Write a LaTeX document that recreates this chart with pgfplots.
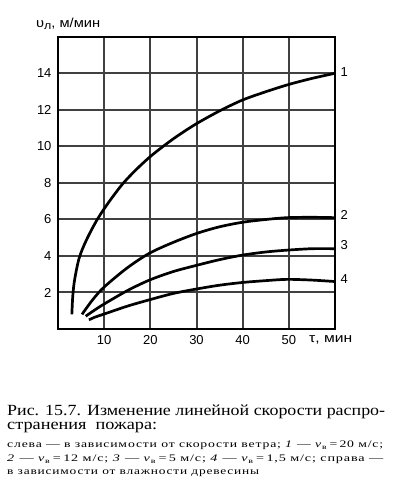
\documentclass[border=0pt]{standalone}
\usepackage{fontspec}
\usepackage{graphicx}
\setmainfont{Liberation Sans}
\newfontfamily\capfont{Liberation Serif}
\newfontfamily\smallfont[LetterSpace=6]{Liberation Serif}
\usepackage{pgfplots}
\pgfplotsset{compat=1.18}
\begin{document}
\begin{tikzpicture}
\path[use as bounding box] (0pt,0pt) rectangle (395pt,486pt);
\begin{axis}[
  at={(58pt,157pt)}, anchor=south west,
  scale only axis, width=277pt, height=292pt,
  xmin=0, xmax=60, ymin=0, ymax=16,
  xtick={10,20,30,40,50}, ytick={2,4,...,14},
  major tick length=0pt,
  xmajorgrids=true, ymajorgrids=true,
  major grid style={solid, draw=black!75, line width=2pt},
  axis line style={line width=2pt},
  tick label style={font=\fontsize{13}{13}\selectfont},
  /pgf/number format/assume math mode=true,
  xticklabel style={yshift=-3pt},
  yticklabel style={xshift=-3pt},
  clip=false,
]
\addplot[line width=2.7pt, smooth] coordinates {
 (3.0,0.8) (3.2,1.8) (3.6,2.7) (4.6,3.9) (6.2,4.9) (8.5,6.0) (11,6.95)
 (14,7.95) (17,8.75) (20,9.45) (23,10.05) (26,10.6) (30,11.25) (35,11.95) (40,12.55)
 (45,13.0) (50,13.4) (55,13.73) (59.8,14.0)};
\addplot[line width=2.7pt, smooth] coordinates {
 (5.2,0.8) (7.5,1.6) (10,2.3) (15,3.35) (19.8,4.15) (25,4.75) (30.2,5.25) (35,5.6)
 (40,5.85) (45,6.0) (49.6,6.1) (55,6.12) (60,6.1)};
\addplot[line width=2.7pt, smooth] coordinates {
 (6.0,0.7) (8,1.05) (10,1.37) (15,2.1) (19.8,2.68) (25,3.15) (30.2,3.5) (35,3.8)
 (40,4.05) (45,4.22) (49.6,4.32) (55,4.4) (60,4.4)};
\addplot[line width=2.7pt, smooth] coordinates {
 (6.7,0.5) (8,0.65) (10,0.82) (15,1.25) (19.8,1.6) (25,1.95) (30.2,2.2) (35,2.4)
 (40,2.55) (45,2.65) (49.6,2.72) (55,2.68) (60,2.6)};
\node[anchor=west,font=\fontsize{13}{13}\selectfont] at (axis cs:60,14.1) {\,1};
\node[anchor=west,font=\fontsize{13}{13}\selectfont] at (axis cs:60,6.25) {\,2};
\node[anchor=west,font=\fontsize{13}{13}\selectfont] at (axis cs:60,4.6) {\,3};
\node[anchor=west,font=\fontsize{13}{13}\selectfont] at (axis cs:60,2.75) {\,4};
\end{axis}
\node[anchor=base west,font=\fontsize{13}{13}\selectfont,inner sep=0pt] at (36pt,458pt) {\resizebox{64pt}{\height}{υ\raisebox{-2pt}{\fontsize{11}{11}\selectfont л}, м/мин}};
\node[anchor=base west,font=\fontsize{13}{13}\selectfont,inner sep=0pt] at (309pt,143pt) {\resizebox{43pt}{\height}{τ, мин}};
\node[anchor=base west,inner sep=0pt] at (7pt,70pt) {\capfont\fontsize{15.5}{15.5}\selectfont\resizebox{378pt}{\height}{Рис. 15.7. Изменение линейной скорости распро-}};
\node[anchor=base west,inner sep=0pt] at (7pt,56pt) {\capfont\fontsize{15.5}{15.5}\selectfont\resizebox{150pt}{\height}{странения\ \ пожара:}};
\node[anchor=base west,inner sep=0pt] at (7pt,38pt) {\smallfont\fontsize{10}{10}\selectfont\resizebox{376pt}{\height}{слева — в зависимости от скорости ветра; \textit{1} — \textit{v}\textsubscript{в}\,=\,20 м/с;}};
\node[anchor=base west,inner sep=0pt] at (7pt,24pt) {\smallfont\fontsize{10}{10}\selectfont\resizebox{376pt}{\height}{\textit{2} — \textit{v}\textsubscript{в}\,=\,12 м/с; \textit{3} — \textit{v}\textsubscript{в}\,=\,5 м/с; \textit{4} — \textit{v}\textsubscript{в}\,=\,1,5 м/с; справа —}};
\node[anchor=base west,inner sep=0pt] at (7pt,11pt) {\smallfont\fontsize{10}{10}\selectfont\resizebox{252pt}{\height}{в зависимости от влажности древесины}};
\end{tikzpicture}
\end{document}
